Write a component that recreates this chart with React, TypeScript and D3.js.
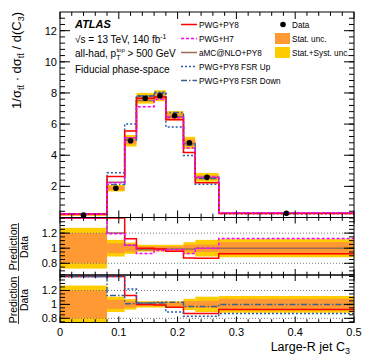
import React from "react";
import * as d3 from "d3";

// bin edges of large-R jet C3
const binEdges = [0, 0.08, 0.11, 0.13, 0.16, 0.18, 0.21, 0.23, 0.27, 0.5];

// unfolded data, 1/sigma dsigma/dC3
const dataValues = [0.15, 1.88, 4.93, 7.66, 7.82, 6.54, 4.8, 2.58, 0.27];
// relative uncertainties
const statRel = [0.2, 0.065, 0.045, 0.025, 0.025, 0.025, 0.045, 0.05, 0.08];
const totalRel = [0.27, 0.11, 0.075, 0.045, 0.045, 0.045, 0.08, 0.11, 0.12];

// predictions
const pwgPy8 = [0.23, 2.63, 5.55, 7.66, 7.74, 6.28, 4.18, 2.24, 0.25];
const pwgH7 = [0.23, 2.24, 5.13, 7.12, 7.59, 6.41, 4.46, 2.58, 0.305];
const amcPy8 = [0.22, 2.26, 5.13, 7.51, 7.74, 6.47, 4.75, 2.58, 0.27];
const fsrUp = [0.24, 2.88, 6.01, 7.81, 8.05, 5.82, 3.98, 2.14, 0.235];
const fsrDown = [0.22, 2.12, 4.98, 7.81, 7.98, 6.74, 4.66, 2.5, 0.27];

const xTicks = [0, 0.1, 0.2, 0.3, 0.4, 0.5];
const yMainTicks = [2, 4, 6, 8, 10, 12];
const ratioTicks = [0.8, 1, 1.2];

const FONT = "Liberation Sans, Arial, Helvetica, sans-serif";
const ORANGE = "#ff9933";
const YELLOW = "#ffcc00";

const styles = {
  red: { stroke: "#ff0000", dash: "none" },
  h7: { stroke: "#ff00ff", dash: "3,2" },
  amc: { stroke: "#9c6b55", dash: "none" },
  up: { stroke: "#2a5aa8", dash: "2,2" },
  down: { stroke: "#3b5f8f", dash: "6,2,1.5,2" },
};

const x = d3.scaleLinear().domain([0, 0.5]).range([60, 354]);
const yMain = d3.scaleLinear().domain([0, 13.2]).range([217.5, 12]);
const yR1 = d3.scaleLinear().domain([0.645, 1.4]).range([275, 218]).clamp(true);
const yR2 = d3.scaleLinear().domain([0.74, 1.4]).range([322.5, 276.5]).clamp(true);

const stepPath = (vals: number[], y: d3.ScaleLinear<number, number>) => {
  const pts: [number, number][] = vals.map((v, i) => [x(binEdges[i]), y(v)]);
  pts.push([x(binEdges[vals.length]), y(vals[vals.length - 1])]);
  return d3.line().curve(d3.curveStepAfter)(pts) || "";
};

const ratio = (vals: number[]) => vals.map((v, i) => v / dataValues[i]);

function Frame({ y, top, bottom, major, minor, majorLen, minorLen, xLen }: any) {
  const xMinor = d3.range(0, 0.5001, 0.02);
  return (
    <g stroke="#000" strokeWidth={1}>
      {minor.map((t: number) => (
        <g key={"m" + t}>
          <line x1={60} x2={60 + minorLen} y1={y(t)} y2={y(t)} />
          <line x1={354} x2={354 - minorLen} y1={y(t)} y2={y(t)} />
        </g>
      ))}
      {major.map((t: number) => (
        <g key={"M" + t}>
          <line x1={60} x2={60 + majorLen} y1={y(t)} y2={y(t)} />
          <line x1={354} x2={354 - majorLen} y1={y(t)} y2={y(t)} />
        </g>
      ))}
      {xMinor.map((t) => {
        const isMajor = Math.abs(t * 10 - Math.round(t * 10)) < 1e-6;
        const l = isMajor ? xLen : xLen * 0.55;
        return (
          <g key={"x" + t}>
            <line x1={x(t)} x2={x(t)} y1={bottom} y2={bottom - l} />
            <line x1={x(t)} x2={x(t)} y1={top} y2={top + l} />
          </g>
        );
      })}
      <rect x={60} y={top} width={294} height={bottom - top} fill="none" />
    </g>
  );
}

function Bands({ y }: { y: (v: number) => number }) {
  return (
    <g>
      {dataValues.map((d, i) => (
        <rect
          key={"t" + i}
          x={x(binEdges[i])}
          width={x(binEdges[i + 1]) - x(binEdges[i])}
          y={y(1 + totalRel[i])}
          height={y(1 - totalRel[i]) - y(1 + totalRel[i])}
          fill={YELLOW}
        />
      ))}
      {dataValues.map((d, i) => (
        <rect
          key={"s" + i}
          x={x(binEdges[i])}
          width={x(binEdges[i + 1]) - x(binEdges[i])}
          y={y(1 + statRel[i])}
          height={y(1 - statRel[i]) - y(1 + statRel[i])}
          fill={ORANGE}
        />
      ))}
    </g>
  );
}

function Hist({ vals, y, s }: any) {
  return (
    <path d={stepPath(vals, y)} fill="none" stroke={s.stroke} strokeWidth={1.5} strokeDasharray={s.dash} />
  );
}

function RatioTitle({ cy }: { cy: number }) {
  return (
    <g fontFamily={FONT} fontSize={10.5}>
      <text transform={`translate(16.5,${cy}) rotate(-90)`} textAnchor="middle">Prediction</text>
      <line x1={18.5} x2={18.5} y1={cy - 24} y2={cy + 24} stroke="#000" strokeWidth={0.8} />
      <text transform={`translate(27.5,${cy}) rotate(-90)`} textAnchor="middle">Data</text>
    </g>
  );
}

export default function App() {
  const yMinor = d3.range(0, 13.2, 0.4);
  const rMinor1 = d3.range(0.65, 1.4001, 0.05);
  const rMinor2 = d3.range(0.75, 1.4001, 0.05);

  const legendLeft = [
    { label: "PWG+PY8", s: styles.red },
    { label: "PWG+H7", s: styles.h7 },
    { label: "aMC@NLO+PY8", s: styles.amc },
    { label: "PWG+PY8 FSR Up", s: styles.up },
    { label: "PWG+PY8 FSR Down", s: styles.down },
  ];

  return (
    <svg width={374} height={363} style={{ display: "block", position: "absolute", left: 0, top: 0 }}>
      <rect width={374} height={363} fill="#fff" />

      {/* main panel */}
      <g>
        {dataValues.map((d, i) => (
          <g key={i}>
            <rect
              x={x(binEdges[i])}
              width={x(binEdges[i + 1]) - x(binEdges[i])}
              y={yMain(d * (1 + totalRel[i]))}
              height={yMain(d * (1 - totalRel[i])) - yMain(d * (1 + totalRel[i]))}
              fill={YELLOW}
            />
            <rect
              x={x(binEdges[i])}
              width={x(binEdges[i + 1]) - x(binEdges[i])}
              y={yMain(d * (1 + statRel[i]))}
              height={yMain(d * (1 - statRel[i])) - yMain(d * (1 + statRel[i]))}
              fill={ORANGE}
            />
          </g>
        ))}
        <Hist vals={amcPy8} y={yMain} s={styles.amc} />
        <Hist vals={fsrDown} y={yMain} s={styles.down} />
        <Hist vals={fsrUp} y={yMain} s={styles.up} />
        <Hist vals={pwgPy8} y={yMain} s={styles.red} />
        <Hist vals={pwgH7} y={yMain} s={styles.h7} />
        {dataValues.map((d, i) => (
          <circle key={i} cx={x((binEdges[i] + binEdges[i + 1]) / 2)} cy={yMain(d)} r={2.8} fill="#000" />
        ))}
        <Frame y={yMain} top={12} bottom={217.5} major={yMainTicks} minor={yMinor} majorLen={10} minorLen={5} xLen={7} />
        <g fontFamily={FONT} fontSize={11} textAnchor="end">
          {yMainTicks.map((t) => (
            <text key={t} x={57} y={yMain(t) + 4}>{t}</text>
          ))}
        </g>
        <text transform="translate(21,12) rotate(-90)" textAnchor="end" fontFamily={FONT} fontSize={13}>
          1/σ<tspan fontSize={9} dy={3}>tt̄</tspan>
          <tspan dy={-3}> · dσ</tspan>
          <tspan fontSize={9} dy={3}>tt̄</tspan>
          <tspan dy={-3}> / d(C</tspan>
          <tspan fontSize={9} dy={3}>3</tspan>
          <tspan dy={-3}>)</tspan>
        </text>
      </g>

      {/* labels */}
      <g fontFamily={FONT} fontSize={10}>
        <text x={75} y={28} fontWeight="bold" fontStyle="italic" fontSize={11}>ATLAS</text>
        <text x={75} y={43}>√s = 13 TeV, 140 fb<tspan fontSize={7} dy={-4}>-1</tspan></text>
        <text x={75} y={57}>all-had, p<tspan fontSize={7} dy={3}>T</tspan><tspan fontSize={6} dx={-4} dy={-8}>top</tspan><tspan dy={5}> &gt; 500 GeV</tspan></text>
        <text x={75} y={73}>Fiducial phase-space</text>
      </g>
      <g fontFamily={FONT} fontSize={8.2}>
        {legendLeft.map((e, i) => (
          <g key={e.label}>
            <line x1={181} x2={197} y1={24.5 + i * 14} y2={24.5 + i * 14} stroke={e.s.stroke} strokeWidth={1.5} strokeDasharray={e.s.dash} />
            <text x={199} y={27.5 + i * 14}>{e.label}</text>
          </g>
        ))}
        <circle cx={283} cy={24.5} r={2.8} fill="#000" />
        <text x={292} y={27.5}>Data</text>
        <rect x={275} y={33} width={15} height={11} fill={ORANGE} />
        <text x={292} y={41.5}>Stat. unc.</text>
        <rect x={275} y={47} width={15} height={11} fill={YELLOW} />
        <text x={292} y={55.5}>Stat.+Syst. unc.</text>
      </g>

      {/* ratio panel 1 */}
      <g>
        <Bands y={yR1} />
        {[0.8, 1.2].map((t) => (
          <line key={t} x1={60} x2={354} y1={yR1(t)} y2={yR1(t)} stroke="#777" strokeDasharray="1,2" />
        ))}
        <Hist vals={ratio(amcPy8)} y={yR1} s={styles.amc} />
        <Hist vals={ratio(pwgPy8)} y={yR1} s={styles.red} />
        <Hist vals={ratio(pwgH7)} y={yR1} s={styles.h7} />
        <Frame y={yR1} top={217.5} bottom={275} major={ratioTicks} minor={rMinor1} majorLen={10} minorLen={5} xLen={6} />
        <g fontFamily={FONT} fontSize={11} textAnchor="end">
          {ratioTicks.map((t) => (
            <text key={t} x={57} y={yR1(t) + 4}>{t}</text>
          ))}
        </g>
        <RatioTitle cy={247} />
      </g>

      {/* ratio panel 2 */}
      <g>
        <Bands y={yR2} />
        {[0.8, 1.2].map((t) => (
          <line key={t} x1={60} x2={354} y1={yR2(t)} y2={yR2(t)} stroke="#777" strokeDasharray="1,2" />
        ))}
        <Hist vals={ratio(pwgPy8)} y={yR2} s={styles.red} />
        <Hist vals={ratio(fsrUp)} y={yR2} s={styles.up} />
        <Hist vals={ratio(fsrDown)} y={yR2} s={styles.down} />
        <Frame y={yR2} top={275} bottom={322.5} major={ratioTicks} minor={rMinor2} majorLen={10} minorLen={5} xLen={6} />
        <g fontFamily={FONT} fontSize={11} textAnchor="end">
          {ratioTicks.map((t) => (
            <text key={t} x={57} y={yR2(t) + 4}>{t}</text>
          ))}
        </g>
        <RatioTitle cy={300} />
        <g fontFamily={FONT} fontSize={11} textAnchor="middle">
          {xTicks.map((t) => (
            <text key={t} x={x(t)} y={336}>{t}</text>
          ))}
        </g>
        <text x={350} y={351} textAnchor="end" fontFamily={FONT} fontSize={12.5}>
          Large-R jet C<tspan fontSize={9} dy={3}>3</tspan>
        </text>
      </g>
    </svg>
  );
}
